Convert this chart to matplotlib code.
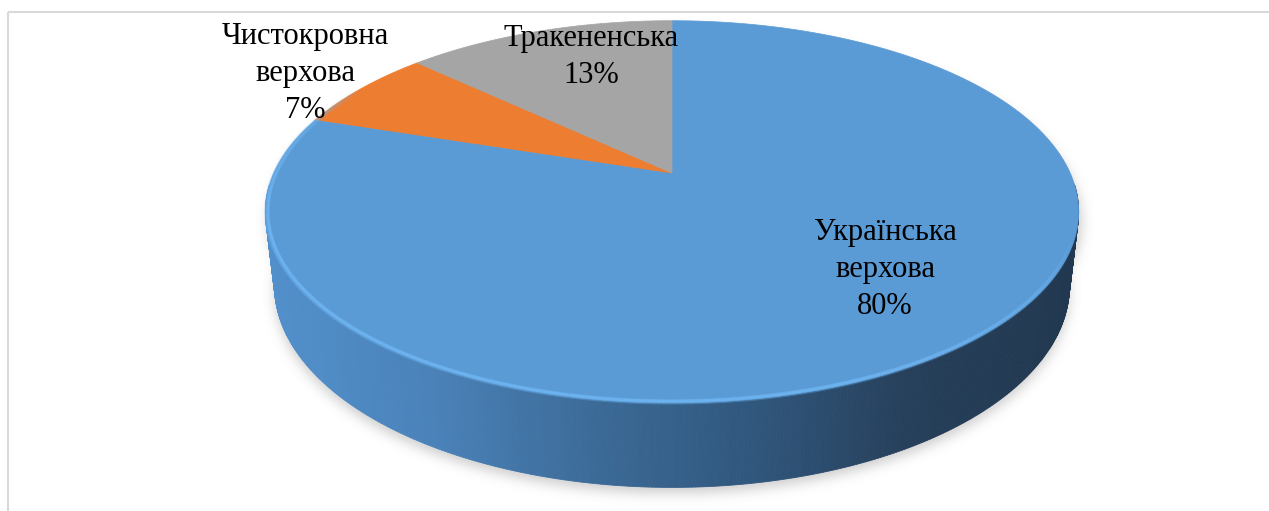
import numpy as np
import matplotlib.pyplot as plt
from matplotlib.patches import Polygon
from matplotlib.path import Path
from matplotlib.collections import LineCollection
from matplotlib.colors import LinearSegmentedColormap, to_rgb

## DATA
breeds = ['Українська\nверхова', 'Чистокровна\nверхова', 'Тракененська']
shares = [80, 7, 13]
colors = ['#5B9BD5', '#ED7D31', '#A5A5A5']

# label anchor (x, baseline of the last line) in pixels
label_pos = [(885, 314), (305, 118), (591, 83)]

## VIEW (simple perspective camera looking down on the pie)
W, H = 1269, 511
elev = np.radians(27.4)
dist = 4.37
focal = 1740
cx, cy = 672, 173
depth_h = 0.21   # thickness of the pie


def project(x, y, z):
    s, c = np.sin(elev), np.cos(elev)
    d = dist + y * c - z * s
    u = cx + focal * x / d
    v = cy - focal * (y * s + z * c) / d
    return u, v


fig = plt.figure(figsize=(W / 100, H / 100), dpi=100)
ax = fig.add_axes([0, 0, 1, 1])
ax.set_xlim(0, W)
ax.set_ylim(H, 0)
ax.axis('off')

# chart border
ax.plot([8, W], [12, 12], color='#D9D9D9', lw=1.5, solid_capstyle='butt')
ax.plot([8, 8], [12, H], color='#D9D9D9', lw=1.5, solid_capstyle='butt')

t_all = np.linspace(0, 2 * np.pi, 721)

# soft shadow under the pie
bu, bv = project(np.cos(t_all), np.sin(t_all), -depth_h)
tu, tv = project(np.cos(t_all), np.sin(t_all), 0)
gx, gy = np.meshgrid(np.arange(W) + 0.5, np.arange(H) + 0.5)
pts = np.column_stack([gx.ravel(), gy.ravel()])
mask = np.zeros(W * H)
for uu, vv in [(bu, bv + 6), (tu + 3, tv + 10)]:
    mask = np.maximum(mask, Path(np.column_stack([uu, vv])).contains_points(pts))
mask = mask.reshape(H, W)
sig = 6
k = np.exp(-0.5 * (np.arange(-3 * sig, 3 * sig + 1) / sig) ** 2)
k /= k.sum()
blur = np.apply_along_axis(lambda r: np.convolve(r, k, mode='same'), 1, mask)
blur = np.apply_along_axis(lambda r: np.convolve(r, k, mode='same'), 0, blur)
shadow = np.zeros((H, W, 4))
shadow[..., :3] = 0.45
shadow[..., 3] = 0.35 * blur
ax.imshow(shadow, extent=[0, W, H, 0], interpolation='bilinear', zorder=1)

# side wall, strips coloured by screen position
side_cmap = LinearSegmentedColormap.from_list(
    'side', ['#5290CB', '#4A82B9', '#3C6B98', '#30577D', '#263F5A', '#213850'])
umin, umax = cx - 405, cx + 405
t_side = np.linspace(np.pi * 1.02, np.pi * 1.98, 400)
order = np.argsort(-np.sin(t_side[:-1]))
for i in order:
    a, b = t_side[i], t_side[i + 1]
    u1, v1 = project(np.cos(a), np.sin(a), 0)
    u2, v2 = project(np.cos(b), np.sin(b), 0)
    u3, v3 = project(np.cos(b), np.sin(b), -depth_h)
    u4, v4 = project(np.cos(a), np.sin(a), -depth_h)
    col = side_cmap(np.clip(((u1 + u2) / 2 - umin) / (umax - umin), 0, 1))
    ax.add_patch(Polygon([(u1, v1), (u2, v2), (u3, v3), (u4, v4)],
                         closed=True, fc=col, ec=col, lw=0.6, zorder=2))

# top face slices, clockwise from 12 o'clock
bounds = np.radians(90 - 360 * np.cumsum([0] + shares) / sum(shares))
for i in range(len(shares)):
    tt = np.linspace(bounds[i], bounds[i + 1], 300)
    xs = np.concatenate([[0], np.cos(tt)])
    ys = np.concatenate([[0], np.sin(tt)])
    u, v = project(xs, ys, 0 * xs)
    ax.add_patch(Polygon(np.column_stack([u, v]), closed=True,
                         fc=colors[i], ec=colors[i], lw=0.5, zorder=3))

# bevel highlight along the front rim
t_rim = np.linspace(np.radians(150), np.radians(340), 300)
for r, lw, al in [(0.996, 4.0, 0.35), (0.994, 2.0, 0.8)]:
    ru, rv = project(r * np.cos(t_rim), r * np.sin(t_rim), 0)
    seg = np.stack([np.column_stack([ru[:-1], rv[:-1]]),
                    np.column_stack([ru[1:], rv[1:]])], axis=1)
    fade = np.clip(np.sin(np.linspace(0, np.pi, len(seg))) * 1.4, 0, 1) ** 0.7
    rim_rgb = to_rgb('#6FB6F4')
    ax.add_collection(LineCollection(seg, colors=[(*rim_rgb, al * f) for f in fade],
                                     linewidths=lw, zorder=4))

# labels
for name, val, (lx, ly) in zip(breeds, shares, label_pos):
    ax.text(lx, ly, f'{name}\n{val}%', ha='center', va='baseline',
            fontsize=22, family='Liberation Serif', linespacing=1.37,
            color='black', zorder=5)

fig.savefig('out.png', dpi=100)
